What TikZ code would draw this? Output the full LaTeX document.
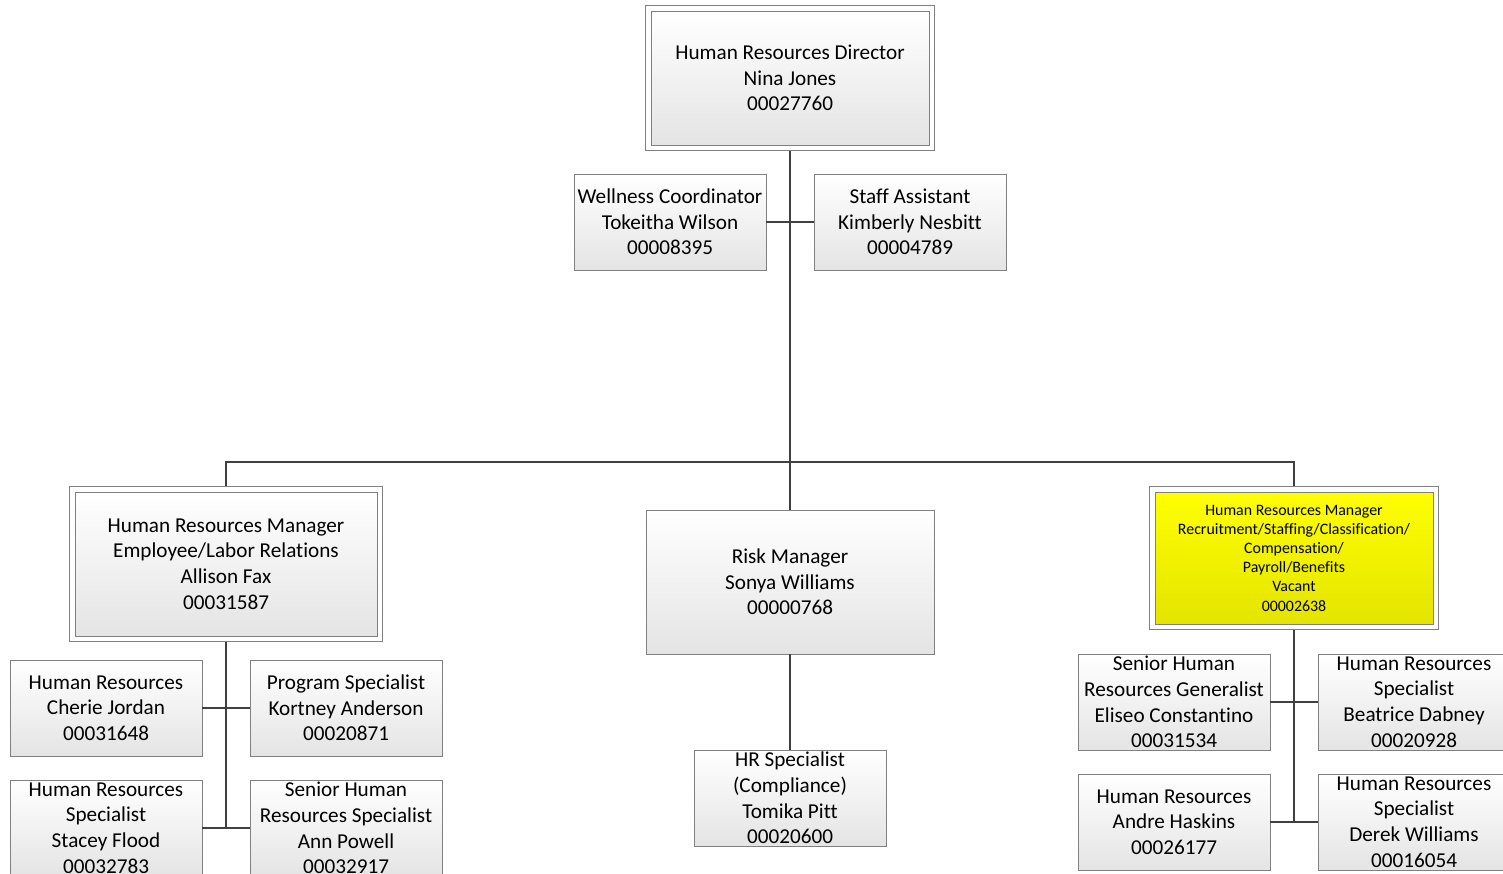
\documentclass[tikz,border=0pt]{standalone}
\usepackage{fontspec}
\setmainfont{Carlito}[Ligatures=NoCommon]
\usetikzlibrary{fit}
\definecolor{bordc}{RGB}{128,128,128}
\definecolor{connc}{RGB}{64,64,64}
\definecolor{boxbot}{RGB}{228,228,228}
\definecolor{ytop}{RGB}{255,255,0}
\definecolor{ybot}{RGB}{228,228,0}
\tikzset{
  box/.style={draw=bordc, line width=0.9pt, top color=white, bottom color=boxbot,
    align=center, inner sep=0pt, minimum width=192pt, minimum height=96pt,
    font=\fontsize{21.2}{25.7}\selectfont},
  bigbox/.style={box, minimum width=278pt, minimum height=134pt},
  rbox/.style={box, minimum width=288pt, minimum height=144pt},
  ybox/.style={draw=bordc, line width=0.9pt, top color=ytop, bottom color=ybot,
    align=center, inner sep=0pt, minimum width=278pt, minimum height=132pt,
    font=\fontsize{15.9}{19.2}\selectfont},
  frame/.style={draw=bordc, line width=0.9pt, inner sep=5pt},
  conn/.style={draw=connc, line width=2.8pt}
}
\begin{document}
\begin{tikzpicture}[x=1pt, y=-1pt]
\useasboundingbox (0,0) rectangle (1503,874);
\clip (0,0) rectangle (1503,874);
% top
\node[bigbox] (dir) at (790,78) {Human Resources Director\\Nina Jones\\00027760};
\node[frame, fit=(dir)] (dirF) {};
\node[box] (well) at (670,222) {Wellness Coordinator\\Tokeitha Wilson\\00008395};
\node[box] (staff) at (910,222) {Staff Assistant\\Kimberly Nesbitt\\00004789};
% managers
\node[bigbox, minimum width=302pt, minimum height=144pt] (mgrL) at (226,564) {Human Resources Manager\\Employee/Labor Relations\\Allison Fax\\00031587};
\node[frame, fit=(mgrL)] (mgrLF) {};
\node[rbox] (risk) at (790,582) {Risk Manager\\Sonya Williams\\00000768};
\node[ybox] (yel) at (1294,558) {Human Resources Manager\\Recruitment/Staffing/Classification/\\Compensation/\\Payroll/Benefits\\Vacant\\00002638};
\node[frame, fit=(yel)] (yelF) {};
% left subordinates
\node[box] (cher) at (106,708) {Human Resources\\Cherie Jordan\\00031648};
\node[box] (kort) at (346,708) {Program Specialist\\Kortney Anderson\\00020871};
\node[box] (stac) at (106,828) {Human Resources\\Specialist\\Stacey Flood\\00032783};
\node[box] (ann) at (346,828) {Senior Human\\Resources Specialist\\Ann Powell\\00032917};
% risk subordinate
\node[box] (hrs) at (790,798) {HR Specialist\\(Compliance)\\Tomika Pitt\\00020600};
% right subordinates
\node[box] (eli) at (1174,702) {Senior Human\\Resources Generalist\\Eliseo Constantino\\00031534};
\node[box] (bea) at (1414,702) {Human Resources\\Specialist\\Beatrice Dabney\\00020928};
\node[box] (andr) at (1174,822) {Human Resources\\Andre Haskins\\00026177};
\node[box] (der) at (1414,822) {Human Resources\\Specialist\\Derek Williams\\00016054};
% connectors
\coordinate (bar) at (790,462);
\draw[conn] (dirF.south) -- (risk.north);
\draw[conn] (well.east) -- (staff.west);
\draw[conn] (mgrLF.north) |- (bar) -| (yelF.north);
\draw[conn] (mgrLF.south) |- (ann.west);
\draw[conn] (cher.east) -- (kort.west);
\draw[conn] (stac.east) -- (ann.west);
\draw[conn] (risk.south) -- (hrs.north);
\draw[conn] (yelF.south) |- (der.west);
\draw[conn] (eli.east) -- (bea.west);
\draw[conn] (andr.east) -- (der.west);
\end{tikzpicture}
\end{document}
